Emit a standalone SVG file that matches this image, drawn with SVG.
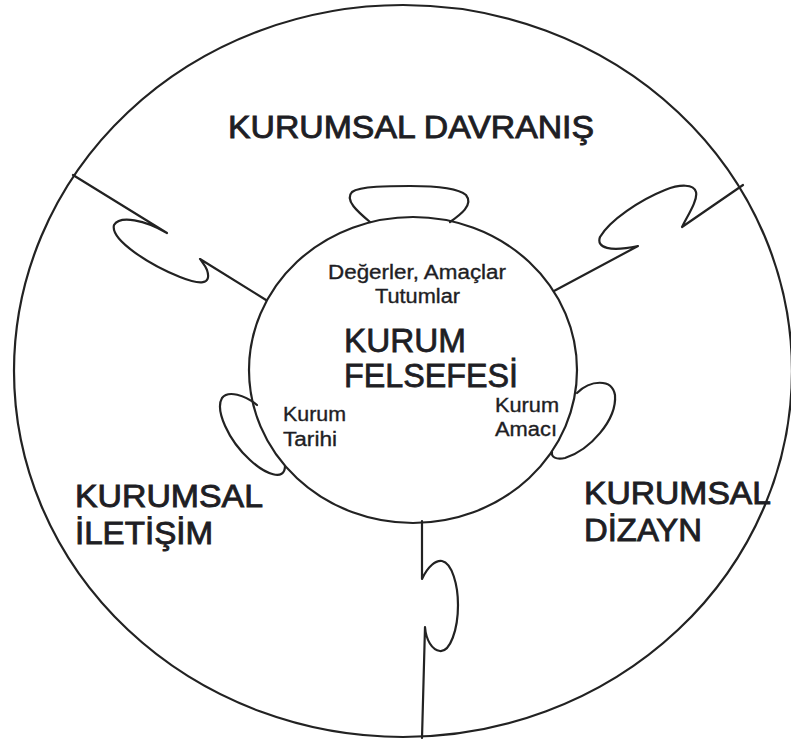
<svg xmlns="http://www.w3.org/2000/svg" width="791" height="742" viewBox="0 0 791 742">
  <style>
    .ln { fill: none; stroke: #222; stroke-width: 2.2; stroke-linejoin: round; stroke-linecap: round; }
    .big { font-family: "Liberation Sans", Arial, sans-serif; font-size: 32px; fill: #1e1e24; stroke: #1e1e24; stroke-width: 0.9; }
    .core { font-family: "Liberation Sans", Arial, sans-serif; font-size: 34px; fill: #1e1e24; stroke: #1e1e24; stroke-width: 0.8; }
    .small { font-family: "Liberation Sans", Arial, sans-serif; font-size: 20px; fill: #1e1e24; stroke: #1e1e24; stroke-width: 0.35; }
  </style>
  <rect width="791" height="742" fill="#fff"/>

  <!-- outer ring enclosing the three corporate areas -->
  <g id="outer-ring">
    <ellipse class="ln" cx="403" cy="371" rx="389" ry="366"/>
  </g>

  <!-- puzzle-piece dividers between the areas -->
  <g id="connectors">
    <path class="ln" d="M73,175 L167,233 C145,220 120,215 114,225 C110,240 150,265 180,277 C200,285 212,285 207,270 C205,265 202,262 200,259 L266,300"/>
    <path class="ln" d="M743,185 L682,227 C688,215 698,200 696,192 C694,184 680,184 665,190 C640,200 610,220 600,237 C596,248 610,252 638,246 L554,291"/>
    <path class="ln" d="M422,521 L422,579 C428,566 436,560 442,561 C452,563 458,585 458,605 C458,630 450,652 440,651 C432,650 426,640 425,627 L422,738"/>
  </g>

  <!-- central philosophy circle with its three tabs -->
  <g id="kurum-felsefesi">
    <ellipse class="ln" cx="413" cy="370" rx="164" ry="153"/>
    <path class="ln" d="M370,222 C358,212 344,200 352,192 C360,186 390,186 410,186 C435,186 458,188 466,195 C474,205 460,215 450,222"/>
    <path class="ln" d="M257,405 C245,395 228,390 222,398 C215,410 228,440 250,460 C265,474 285,482 285,466"/>
    <path class="ln" d="M577,393 C590,380 612,378 615,395 C617,420 590,450 565,458 C556,460 551,457 552,452"/>
    <text class="small" x="328" y="279" textLength="178" lengthAdjust="spacingAndGlyphs">Değerler, Amaçlar</text>
    <text class="small" x="375" y="303" textLength="85" lengthAdjust="spacingAndGlyphs">Tutumlar</text>
    <text class="core" x="344" y="352" textLength="122" lengthAdjust="spacingAndGlyphs">KURUM</text>
    <text class="core" x="344" y="387" textLength="174" lengthAdjust="spacingAndGlyphs">FELSEFESİ</text>
  </g>

  <g id="kurum-tarihi">
    <text class="small" x="283" y="421" textLength="63" lengthAdjust="spacingAndGlyphs">Kurum</text>
    <text class="small" x="283" y="446" textLength="54" lengthAdjust="spacingAndGlyphs">Tarihi</text>
  </g>

  <g id="kurum-amaci">
    <text class="small" x="495" y="412" textLength="64" lengthAdjust="spacingAndGlyphs">Kurum</text>
    <text class="small" x="495" y="436" textLength="62" lengthAdjust="spacingAndGlyphs">Amacı</text>
  </g>

  <g id="kurumsal-davranis">
    <text class="big" x="228" y="138" textLength="366" lengthAdjust="spacingAndGlyphs">KURUMSAL DAVRANIŞ</text>
  </g>

  <g id="kurumsal-iletisim">
    <text class="big" x="75" y="507" textLength="188" lengthAdjust="spacingAndGlyphs">KURUMSAL</text>
    <text class="big" x="75" y="544" textLength="138" lengthAdjust="spacingAndGlyphs">İLETİŞİM</text>
  </g>

  <g id="kurumsal-dizayn">
    <text class="big" x="584" y="504" textLength="187" lengthAdjust="spacingAndGlyphs">KURUMSAL</text>
    <text class="big" x="584" y="541" textLength="118" lengthAdjust="spacingAndGlyphs">DİZAYN</text>
  </g>
</svg>
